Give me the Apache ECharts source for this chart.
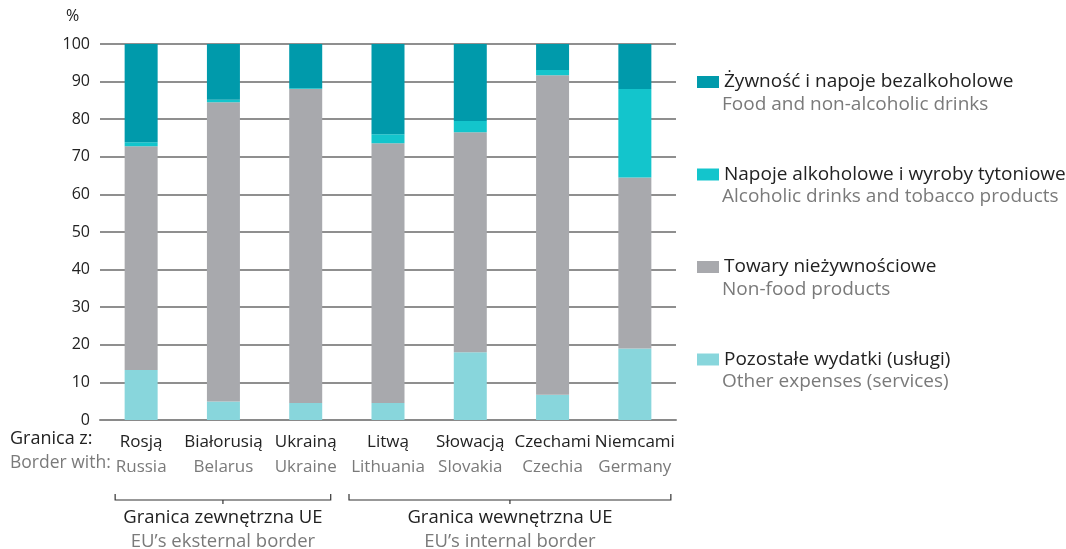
<!DOCTYPE html>
<html lang="pl">
<head>
<meta charset="UTF-8">
<script src="https://cdn.jsdelivr.net/npm/echarts@6/dist/echarts.min.js"></script>
<style>
  html, body { margin: 0; padding: 0; background: #fff; }
  #main { width: 1066px; height: 549px; }
</style>
</head>
<body>
<div id="main"></div>
<script>
// dane
var catsPl = ['Rosją', 'Białorusią', 'Ukrainą', 'Litwą', 'Słowacją', 'Czechami', 'Niemcami'];
var catsEn = ['Russia', 'Belarus', 'Ukraine', 'Lithuania', 'Slovakia', 'Czechia', 'Germany'];
var other   = [13.3, 4.9, 4.5, 4.5, 18.0, 6.7, 19.0];
var nonFood = [59.5, 79.6, 83.5, 69.1, 58.5, 85.0, 45.5];
var alcohol = [1.1, 0.7, 0.2, 2.4, 3.0, 1.4, 23.5];
var food    = [26.1, 14.8, 11.8, 24.0, 20.5, 6.9, 12.0];
var yTicks  = [0, 10, 20, 30, 40, 50, 60, 70, 80, 90, 100];

var namesPl = ['Żywność i napoje bezalkoholowe', 'Napoje alkoholowe i wyroby tytoniowe', 'Towary nieżywnościowe', 'Pozostałe wydatki (usługi)'];
var namesEn = ['Food and non-alcoholic drinks', 'Alcoholic drinks and tobacco products', 'Non-food products', 'Other expenses (services)'];
var colors  = ['#009aab', '#13c5cc', '#a8a9ad', '#88d6dc'];

var font = '"Open Sans", sans-serif';
var chart = echarts.init(document.getElementById('main'));

function bar(name, data, color) {
  return {
    name: name, type: 'bar', stack: 'all', data: data, barWidth: 33,
    itemStyle: { color: color }
  };
}

var legendGap = 92.5;
var graphics = [
  { type: 'text', left: 66, top: 8, style: { text: '%', font: '16px ' + font, fill: '#222' } },
  { type: 'text', left: 10, top: 430, style: { text: 'Granica z:', font: '18px ' + font, fill: '#222' } },
  { type: 'text', left: 10, top: 454, style: { text: 'Border with:', font: '17.5px ' + font, fill: '#7a7a7a' } }
];
namesEn.forEach(function (t, i) {
  graphics.push({ type: 'text', left: 722, top: 95 + i * legendGap,
    style: { text: t, font: '19px ' + font, fill: '#7a7a7a' } });
});

chart.setOption({
  animation: false,
  color: colors,
  textStyle: { fontFamily: font },
  grid: { left: 100, right: 390, top: 44, bottom: 129 },
  legend: {
    orient: 'vertical', left: 697, top: 71, padding: 0,
    itemWidth: 22, itemHeight: 12, itemGap: legendGap - 22,
    icon: 'rect',
    data: namesPl,
    textStyle: { fontSize: 19, color: '#222', lineHeight: 22, fontFamily: font }
  },
  xAxis: {
    type: 'category', data: catsPl,
    axisTick: { show: false },
    axisLine: { lineStyle: { color: '#8a8a8a', width: 2 } },
    axisLabel: {
      margin: 10, interval: 0,
      formatter: function (v, i) { return '{a|' + v + '}\n{b|' + catsEn[i] + '}'; },
      rich: {
        a: { fontSize: 17, color: '#222', lineHeight: 25, fontFamily: font },
        b: { fontSize: 17, color: '#7a7a7a', lineHeight: 25, fontFamily: font }
      }
    }
  },
  yAxis: {
    type: 'value', min: yTicks[0], max: yTicks[yTicks.length - 1], interval: 10,
    axisLine: { show: false }, axisTick: { show: false },
    axisLabel: { fontSize: 16, color: '#222', margin: 10, fontFamily: font },
    splitLine: { lineStyle: { color: '#8f8f8f', width: 2 } }
  },
  series: [
    bar(namesPl[3], other, colors[3]),
    bar(namesPl[2], nonFood, colors[2]),
    bar(namesPl[1], alcohol, colors[1]),
    bar(namesPl[0], food, colors[0])
  ]
});

// nawiasy grup
function px(i) { return chart.convertToPixel({ xAxisIndex: 0 }, catsPl[i]); }
var groups = [
  { x0: px(0) - 26, x1: px(2) + 25, pl: 'Granica zewnętrzna UE', en: 'EU’s eksternal border' },
  { x0: px(3) - 39, x1: px(6) + 36, pl: 'Granica wewnętrzna UE', en: 'EU’s internal border' }
];
var yb = 500;
groups.forEach(function (g) {
  var mid = (g.x0 + g.x1) / 2;
  var ls = { stroke: '#333', lineWidth: 1.2 };
  graphics.push({ type: 'polyline', shape: { points: [[g.x0, yb - 6], [g.x0, yb], [g.x1, yb], [g.x1, yb - 6]] }, style: ls });
  graphics.push({ type: 'line', shape: { x1: mid, y1: yb, x2: mid, y2: yb + 4 }, style: ls });
  graphics.push({ type: 'text', x: mid, y: 508, style: { text: g.pl, font: '18.5px ' + font, fill: '#222', align: 'center' } });
  graphics.push({ type: 'text', x: mid, y: 532, style: { text: g.en, font: '18.5px ' + font, fill: '#7a7a7a', align: 'center' } });
});
chart.setOption({ graphic: graphics });
</script>
</body>
</html>
